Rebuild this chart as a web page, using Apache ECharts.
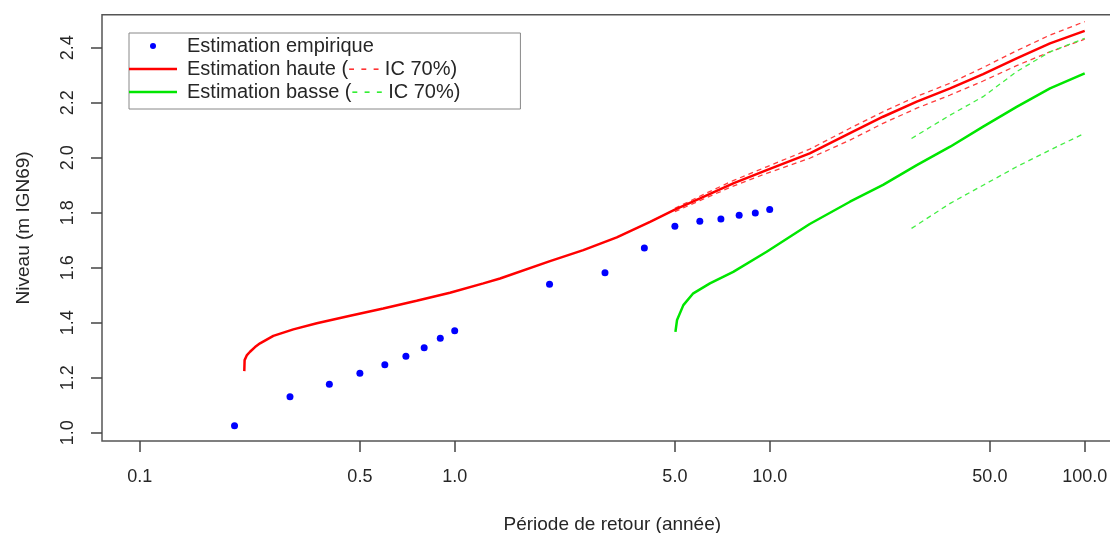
<!DOCTYPE html>
<html>
<head>
<meta charset="utf-8">
<script src="https://cdn.jsdelivr.net/npm/echarts@6.0.0/dist/echarts.min.js"></script>
<style>
  html, body { margin: 0; padding: 0; background: #fff; }
  #chart { width: 1110px; height: 533px; }
</style>
</head>
<body>
<div id="chart"></div>
<script>
// période de retour (années) et niveaux
const empT = [0.2, 0.3, 0.4, 0.5, 0.6, 0.7, 0.8, 0.9, 1, 2, 3, 4, 5, 6, 7, 8, 9, 10]
const empNiveau = [1.025, 1.131, 1.176, 1.216, 1.247, 1.278, 1.309, 1.344, 1.371, 1.540, 1.582, 1.672, 1.751, 1.769, 1.777, 1.791, 1.799, 1.812]

const hauteT = [0.2148, 0.2153, 0.219, 0.224, 0.2323, 0.241, 0.2656, 0.3074, 0.365, 0.4656, 0.593, 0.757, 0.966, 1.233, 1.393, 2.007, 2.56, 3.27, 4.17, 4.98, 6.01, 7.66, 9.78, 13.4, 17.98, 22.9, 29.3, 37.4, 47.6, 60.8, 77.6, 100]
const hauteNiveau = [1.224, 1.264, 1.2825, 1.2945, 1.3116, 1.325, 1.352, 1.376, 1.398, 1.4255, 1.452, 1.48, 1.509, 1.543, 1.561, 1.624, 1.664, 1.7105, 1.767, 1.81, 1.852, 1.907, 1.955, 2.016, 2.089, 2.149, 2.204, 2.252, 2.304, 2.361, 2.416, 2.461]

const hauteIcT = [5, 6, 7.66, 9.78, 13.4, 17.98, 22.9, 29.3, 37.4, 47.6, 60.8, 77.6, 100]
const hauteIcSup = [1.816, 1.860, 1.917, 1.967, 2.031, 2.107, 2.167, 2.223, 2.271, 2.328, 2.389, 2.446, 2.495]
const hauteIcInf = [1.804, 1.844, 1.897, 1.943, 1.998, 2.064, 2.125, 2.180, 2.228, 2.279, 2.335, 2.385, 2.431]

const basseT = [5.02, 5.08, 5.32, 5.72, 6.46, 7.66, 9.78, 13.4, 17.98, 22.9, 29.3, 37.4, 47.6, 60.8, 77.6, 100]
const basseNiveau = [1.367, 1.41, 1.464, 1.507, 1.543, 1.585, 1.658, 1.759, 1.84, 1.901, 1.973, 2.04, 2.113, 2.185, 2.252, 2.307]

const basseIcT = [28.2, 37.4, 47.6, 60.8, 77.6, 100]
const basseIcSup = [2.07, 2.155, 2.222, 2.313, 2.385, 2.434]
const basseIcInf = [1.743, 1.834, 1.90, 1.967, 2.028, 2.089]

const xTicks = [0.1, 0.5, 1, 5, 10, 50, 100]
const yTicks = [1.0, 1.2, 1.4, 1.6, 1.8, 2.0, 2.2, 2.4]

const FONT = '"Liberation Sans", Arial, sans-serif'
const TXT = '#262626'

// axe x en log10
function pts (t, v) {
  return t.map((x, i) => [Math.log10(x), v[i]])
}

const option = {
  animation: false,
  backgroundColor: '#fff',
  grid: {
    left: 102,
    top: 14.7,
    width: 1020.5,
    height: 426.3,
    outerBoundsMode: 'none',
    containLabel: false,
    show: true,
    borderColor: '#555',
    borderWidth: 1.5,
    backgroundColor: 'transparent'
  },
  legend: {
    left: 129,
    top: 33,
    orient: 'vertical',
    selectedMode: false,
    backgroundColor: '#fff',
    borderColor: '#888',
    borderWidth: 1,
    padding: [2, 60, 6, 0],
    itemGap: 1,
    itemWidth: 48,
    itemHeight: 6,
    data: [
      { name: 'Estimation empirique', icon: 'circle' },
      { name: 'Estimation haute', icon: 'path://M0,0H48V2.5H0Z' },
      { name: 'Estimation basse', icon: 'path://M0,0H48V2.5H0Z' }
    ],
    formatter: function (name) {
      if (name === 'Estimation haute') return '{s|}{t|Estimation haute (}{r|- - -}{t| IC 70%)}'
      if (name === 'Estimation basse') return '{s|}{t|Estimation basse (}{g|- - -}{t| IC 70%)}'
      return '{s|}{t|' + name + '}'
    },
    textStyle: {
      fontFamily: FONT,
      fontSize: 20,
      color: TXT,
      lineHeight: 22,
      rich: {
        s: { width: 5, lineHeight: 22 },
        t: { fontFamily: FONT, fontSize: 20, color: TXT, lineHeight: 22 },
        r: { fontFamily: FONT, fontSize: 20, color: '#ff3333', lineHeight: 22 },
        g: { fontFamily: FONT, fontSize: 20, color: '#33ee33', lineHeight: 22 }
      }
    }
  },
  xAxis: {
    type: 'value',
    min: -1.1197,
    max: 2.12,
    name: 'Période de retour (année)',
    nameLocation: 'middle',
    nameGap: 74,
    nameTextStyle: { fontFamily: FONT, fontSize: 19, color: TXT },
    axisLine: { show: false, onZero: false },
    splitLine: { show: false },
    axisTick: {
      length: 11,
      lineStyle: { color: '#444', width: 1.5 },
      customValues: xTicks.map(v => Math.log10(v))
    },
    axisLabel: {
      margin: 27,
      fontFamily: FONT,
      fontSize: 18,
      color: TXT,
      customValues: xTicks.map(v => Math.log10(v)),
      formatter: function (v) {
        return Math.pow(10, v).toFixed(1)
      }
    }
  },
  yAxis: {
    type: 'value',
    min: 0.970,
    max: 2.520,
    name: 'Niveau (m IGN69)',
    nameLocation: 'middle',
    nameGap: 69,
    nameTextStyle: { fontFamily: FONT, fontSize: 19, color: TXT },
    axisLine: { show: false, onZero: false },
    splitLine: { show: false },
    axisTick: {
      length: 11,
      lineStyle: { color: '#444', width: 1.5 },
      customValues: yTicks
    },
    axisLabel: {
      rotate: 90,
      margin: 25,
      fontFamily: FONT,
      fontSize: 18,
      color: TXT,
      customValues: yTicks,
      formatter: function (v) {
        return v.toFixed(1)
      }
    }
  },
  series: [
    {
      name: 'IC haute sup',
      type: 'line',
      symbol: 'none',
      data: pts(hauteIcT, hauteIcSup),
      lineStyle: { color: '#ff3b3b', width: 1.3, type: [5, 4] },
      z: 2
    },
    {
      name: 'IC haute inf',
      type: 'line',
      symbol: 'none',
      data: pts(hauteIcT, hauteIcInf),
      lineStyle: { color: '#ff3b3b', width: 1.3, type: [5, 4] },
      z: 2
    },
    {
      name: 'IC basse sup',
      type: 'line',
      symbol: 'none',
      data: pts(basseIcT, basseIcSup),
      lineStyle: { color: '#44ee44', width: 1.3, type: [5, 4] },
      z: 2
    },
    {
      name: 'IC basse inf',
      type: 'line',
      symbol: 'none',
      data: pts(basseIcT, basseIcInf),
      lineStyle: { color: '#44ee44', width: 1.3, type: [5, 4] },
      z: 2
    },
    {
      name: 'Estimation haute',
      type: 'line',
      symbol: 'none',
      data: pts(hauteT, hauteNiveau),
      itemStyle: { color: '#ff0000' },
      lineStyle: { color: '#ff0000', width: 2.5 },
      z: 3
    },
    {
      name: 'Estimation basse',
      type: 'line',
      symbol: 'none',
      data: pts(basseT, basseNiveau),
      itemStyle: { color: '#00e600' },
      lineStyle: { color: '#00e600', width: 2.5 },
      z: 3
    },
    {
      name: 'Estimation empirique',
      type: 'scatter',
      symbol: 'circle',
      symbolSize: 7,
      data: pts(empT, empNiveau),
      itemStyle: { color: '#0000ff', opacity: 1 },
      z: 4
    }
  ]
}

const myChart = echarts.init(document.getElementById('chart'))
myChart.setOption(option, true)
window.addEventListener('resize', function () {
  myChart.resize()
})
</script>
</body>
</html>
